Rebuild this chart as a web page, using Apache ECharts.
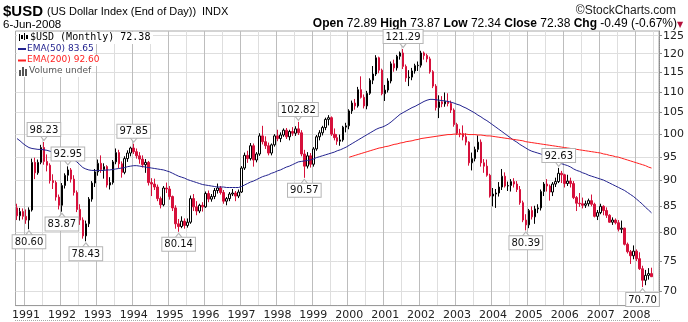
<!DOCTYPE html>
<html><head><meta charset="utf-8">
<script src="https://cdn.jsdelivr.net/npm/echarts@6/dist/echarts.min.js"></script>
<style>html,body{margin:0;padding:0;background:#fff}#c{width:688px;height:322px}</style>
</head><body><div id="c"></div>
<script>
// first candle: Oct 1990, monthly
const startYear = 1990, startMonth = 10;
const openVals = [
84.6, 83.1, 83.9,
83.0, 82.3, 84.2, 93.8, 91.6, 93.8, 97.0, 94.0, 93.2, 90.0, 89.6, 86.7,
85.1, 89.0, 91.1, 92.2, 90.3, 87.6, 84.3, 82.3, 79.4, 81.6, 86.3, 89.5,
91.8, 93.6, 92.3, 92.9, 89.1, 89.6, 93.9, 95.9, 93.5, 91.7, 94.6, 95.8,
96.9, 96.1, 95.2, 94.5, 93.3, 93.8, 89.6, 89.3, 88.7, 86.4, 85.2, 88.5,
88.3, 86.8, 84.6, 81.6, 81.1, 82.1, 81.3, 81.9, 86.4, 84.8, 84.0, 85.1,
84.8, 87.4, 86.3, 86.8, 88.0, 88.5, 87.6, 85.9, 86.4, 87.3, 87.5, 86.9,
87.7, 92.6, 95.3, 94.6, 97.4, 94.3, 95.6, 99.6, 98.3, 97.4, 95.8, 97.6,
99.6, 99.0, 99.8, 100.9, 99.4, 100.6, 100.2, 101.2, 100.3, 95.6, 93.0, 95.2,
93.4, 96.7, 99.4, 100.3, 101.5, 103.4, 103.8, 100.0, 99.2, 98.4, 98.7, 101.6,
101.9, 105.4, 107.3, 106.6, 110.6, 108.7, 106.6, 109.7, 113.0, 114.6, 118.9, 115.6,
109.6, 110.5, 112.8, 117.3, 116.2, 119.3, 120.2, 116.6, 113.6, 113.8, 115.4, 116.8,
116.9, 120.2, 119.5, 118.6, 115.2, 111.5, 106.2, 107.6, 107.1, 107.7, 107.2, 105.6,
102.2, 100.2, 100.1, 99.4, 98.2, 93.7, 94.6, 96.6, 98.2, 93.7, 93.0, 91.1,
86.9, 87.3, 87.5, 88.7, 90.9, 88.9, 89.0, 89.8, 89.3, 88.2, 85.6, 82.3,
81.4, 84.1, 82.9, 84.4, 84.6, 87.8, 89.3, 88.9, 87.7, 89.3, 89.8, 91.5,
91.2, 89.4, 89.9, 89.4, 86.6, 85.5, 85.4, 85.1, 85.4, 86.0, 85.3, 83.0,
83.7, 84.9, 84.1, 83.2, 81.9, 82.3, 81.8, 80.6, 80.8, 77.9, 76.6, 75.9,
76.7, 75.4, 73.7, 71.8, 72.6, 72.89
];
const highVals = [
85.4, 84.6, 84.5,
84.3, 84.7, 94.6, 94.8, 94.4, 97.6, 98.23, 95.5, 93.6, 91.3, 90.0, 87.2,
89.5, 91.5, 92.95, 92.6, 91.1, 88.0, 85.3, 82.8, 82.2, 86.7, 89.9, 92.4,
94.4, 95.3, 93.6, 93.2, 90.7, 94.3, 96.8, 96.5, 94.0, 95.1, 96.4, 97.2,
97.85, 96.8, 96.0, 95.3, 94.5, 94.1, 90.5, 90.4, 89.2, 86.8, 88.9, 89.6,
88.9, 87.0, 85.1, 82.5, 83.0, 82.6, 82.6, 87.0, 87.3, 85.9, 85.4, 85.7,
87.8, 88.0, 87.3, 88.5, 89.4, 88.9, 88.1, 86.7, 87.7, 88.3, 87.9, 88.2,
93.0, 95.9, 96.3, 98.0, 97.9, 96.0, 100.2, 101.9, 99.5, 98.1, 97.9, 100.0,
101.0, 100.4, 101.3, 101.4, 101.0, 101.6, 101.8, 102.82, 100.9, 96.5, 96.0, 95.8,
97.1, 99.8, 100.9, 101.9, 103.8, 104.4, 104.1, 101.3, 100.0, 99.9, 101.9, 102.6,
105.8, 107.9, 108.3, 111.3, 114.0, 109.4, 110.3, 113.5, 116.7, 119.6, 119.2, 116.0,
111.8, 113.5, 117.9, 118.4, 119.7, 120.6, 121.29, 117.1, 115.6, 116.2, 117.3, 117.9,
120.8, 120.6, 120.0, 119.2, 115.6, 112.0, 109.2, 109.0, 109.9, 109.7, 107.9, 106.0,
102.6, 101.2, 102.0, 100.2, 98.4, 95.9, 97.2, 99.7, 98.8, 94.5, 94.4, 91.4,
88.5, 88.3, 89.7, 92.4, 91.7, 89.8, 90.3, 90.5, 89.9, 88.9, 86.0, 83.4,
84.4, 84.9, 85.0, 85.3, 88.2, 89.7, 90.3, 89.2, 89.7, 90.6, 92.63, 92.0,
91.4, 91.2, 90.6, 89.9, 86.9, 87.5, 86.6, 86.0, 86.4, 87.2, 85.6, 84.2,
85.4, 85.1, 84.7, 83.4, 82.8, 82.6, 82.3, 82.2, 80.9, 78.2, 76.9, 77.7,
77.0, 76.5, 74.2, 73.5, 73.8, 73.87
];
const lowVals = [
82.3, 82.2, 82.4,
81.6, 80.60, 83.9, 90.3, 91.2, 93.4, 93.3, 91.9, 89.4, 88.3, 86.0, 84.3,
83.87, 88.4, 89.9, 89.6, 87.0, 83.8, 81.4, 78.9, 78.43, 81.0, 85.8, 88.7,
91.0, 91.6, 90.4, 88.6, 88.2, 89.2, 93.4, 92.6, 90.6, 91.3, 93.9, 95.1,
95.6, 94.6, 93.5, 92.7, 91.6, 89.0, 86.9, 88.1, 85.9, 84.5, 84.9, 87.5,
86.2, 84.0, 80.7, 80.14, 80.8, 80.7, 80.9, 81.6, 84.0, 83.2, 83.6, 83.9,
84.6, 85.7, 85.8, 86.3, 87.4, 87.2, 85.4, 85.1, 85.9, 86.9, 85.9, 86.5,
87.5, 92.2, 93.7, 94.2, 92.9, 93.8, 95.2, 97.7, 96.7, 95.3, 95.3, 97.2,
98.4, 98.2, 99.4, 98.9, 98.6, 99.6, 99.6, 99.8, 95.1, 90.57, 92.5, 92.7,
92.9, 96.3, 98.6, 99.7, 100.9, 102.0, 99.6, 98.6, 97.6, 97.4, 98.3, 100.4,
101.1, 104.7, 105.7, 106.2, 108.4, 106.0, 105.8, 109.3, 112.0, 114.1, 114.8, 109.2,
107.8, 109.9, 112.2, 115.2, 115.5, 118.4, 115.9, 112.6, 111.5, 113.0, 114.7, 115.4,
116.3, 118.4, 117.7, 114.7, 111.0, 105.5, 103.7, 106.3, 106.4, 106.5, 104.9, 101.7,
99.8, 99.3, 98.6, 97.5, 93.1, 92.1, 94.0, 96.0, 92.9, 91.6, 90.8, 86.6,
84.9, 84.6, 86.8, 88.1, 88.6, 87.9, 87.8, 88.6, 87.7, 85.2, 81.9, 80.39,
80.8, 82.4, 81.6, 83.6, 84.1, 86.9, 87.8, 86.0, 86.9, 88.7, 89.5, 89.5,
88.6, 88.9, 88.6, 86.3, 84.0, 84.8, 84.5, 84.6, 84.9, 84.9, 82.8, 82.3,
83.4, 83.2, 82.7, 81.8, 81.4, 81.5, 80.2, 79.9, 77.7, 76.3, 74.5, 75.3,
75.0, 73.5, 70.70, 71.0, 71.9, 72.34
];
const closeVals = [
83.1, 83.9, 83.0,
82.3, 84.2, 93.8, 91.6, 93.8, 97.0, 94.0, 93.2, 90.0, 89.6, 86.7, 85.1,
89.0, 91.1, 92.2, 90.3, 87.6, 84.3, 82.3, 79.4, 81.6, 86.3, 89.5, 91.8,
93.6, 92.3, 92.9, 89.1, 89.6, 93.9, 95.9, 93.5, 91.7, 94.6, 95.8, 96.9,
96.1, 95.2, 94.5, 93.3, 93.8, 89.6, 89.3, 88.7, 86.4, 85.2, 88.5, 88.3,
86.8, 84.6, 81.6, 81.1, 82.1, 81.3, 81.9, 86.4, 84.8, 84.0, 85.1, 84.8,
87.4, 86.3, 86.8, 88.0, 88.5, 87.6, 85.9, 86.4, 87.3, 87.5, 86.9, 87.7,
92.6, 95.3, 94.6, 97.4, 94.3, 95.6, 99.6, 98.3, 97.4, 95.8, 97.6, 99.6,
99.0, 99.8, 100.9, 99.4, 100.6, 100.2, 101.2, 100.3, 95.6, 93.0, 95.2, 93.4,
96.7, 99.4, 100.3, 101.5, 103.4, 103.8, 100.0, 99.2, 98.4, 98.7, 101.6, 101.9,
105.4, 107.3, 106.6, 110.6, 108.7, 106.6, 109.7, 113.0, 114.6, 118.9, 115.6, 109.6,
110.5, 112.8, 117.3, 116.2, 119.3, 120.2, 116.6, 113.6, 113.8, 115.4, 116.8, 116.9,
120.2, 119.5, 118.6, 115.2, 111.5, 106.2, 107.6, 107.1, 107.7, 107.2, 105.6, 102.2,
100.2, 100.1, 99.4, 98.2, 93.7, 94.6, 96.6, 98.2, 93.7, 93.0, 91.1, 86.9,
87.3, 87.5, 88.7, 90.9, 88.9, 89.0, 89.8, 89.3, 88.2, 85.6, 82.3, 81.4,
84.1, 82.9, 84.4, 84.6, 87.8, 89.3, 88.9, 87.7, 89.3, 89.8, 91.5, 91.2,
89.4, 89.9, 89.4, 86.6, 85.5, 85.4, 85.1, 85.4, 86.0, 85.3, 83.0, 83.7,
84.9, 84.1, 83.2, 81.9, 82.3, 81.8, 80.6, 80.8, 77.9, 76.6, 75.9, 76.7,
75.4, 73.7, 71.8, 72.6, 72.89, 72.38
];
const ema50Vals = [
99.0, 98.5, 97.9,
97.4, 97.0, 96.8, 96.7, 96.6, 96.6, 96.5, 96.4, 96.2, 96.0, 95.9, 95.8,
95.6, 95.4, 95.1, 94.8, 94.4, 93.9, 93.3, 92.7, 92.4, 92.2, 92.1, 92.1,
92.1, 92.1, 92.1, 92.2, 92.2, 92.3, 92.4, 92.5, 92.6, 92.7, 92.9, 93.0,
93.1, 93.1, 93.0, 92.9, 92.8, 92.7, 92.6, 92.5, 92.4, 92.3, 92.2, 92.0,
91.8, 91.5, 91.2, 90.9, 90.7, 90.5, 90.2, 90.0, 89.8, 89.6, 89.4, 89.2,
89.1, 89.0, 88.9, 88.8, 88.7, 88.7, 88.7, 88.6, 88.6, 88.6, 88.6, 88.6,
88.8, 89.1, 89.4, 89.7, 89.9, 90.2, 90.5, 90.8, 91.0, 91.2, 91.5, 91.7,
92.0, 92.2, 92.5, 92.8, 93.0, 93.3, 93.6, 93.9, 94.0, 94.1, 94.2, 94.3,
94.5, 94.8, 95.0, 95.2, 95.4, 95.6, 95.8, 96.0, 96.3, 96.5, 96.8, 97.1,
97.5, 97.9, 98.3, 98.7, 99.1, 99.5, 99.9, 100.3, 100.7, 101.1, 101.4, 101.6,
101.9, 102.3, 102.8, 103.4, 104.0, 104.6, 105.0, 105.4, 105.8, 106.2, 106.5, 106.9,
107.3, 107.7, 108.0, 108.2, 108.2, 108.1, 108.0, 107.9, 107.8, 107.7, 107.5, 107.3,
107.0, 106.8, 106.4, 106.1, 105.7, 105.3, 104.9, 104.4, 104.0, 103.5, 103.1, 102.6,
102.1, 101.6, 101.1, 100.6, 100.1, 99.6, 99.1, 98.6, 98.2, 97.7, 97.3, 96.9,
96.5, 96.2, 96.0, 95.8, 95.6, 95.3, 95.0, 94.6, 94.2, 93.9, 93.7, 93.5,
93.3, 93.1, 92.8, 92.4, 92.1, 91.9, 91.6, 91.4, 91.1, 90.9, 90.7, 90.5,
90.3, 90.1, 89.8, 89.5, 89.2, 88.9, 88.6, 88.3, 88.0, 87.6, 87.2, 86.8,
86.3, 85.8, 85.3, 84.7, 84.2, 83.65
];
// EMA(200) is drawn from Jan 2000 onwards
const ema200Start = '2000-01';
const ema200Vals = [
94.9, 95.1, 95.3, 95.5, 95.7, 95.9, 96.1, 96.3, 96.5, 96.7, 96.9, 97.0,
97.2, 97.3, 97.5, 97.7, 97.8, 98.0, 98.1, 98.3, 98.4, 98.5, 98.7, 98.8,
99.0, 99.1, 99.2, 99.3, 99.4, 99.5, 99.6, 99.7, 99.8, 99.9, 99.9, 100.0,
100.0, 100.0, 100.0, 100.0, 99.9, 99.9, 99.9, 99.8, 99.8, 99.7, 99.6, 99.6,
99.5, 99.4, 99.3, 99.2, 99.1, 99.0, 98.9, 98.8, 98.7, 98.6, 98.5, 98.3,
98.2, 98.1, 98.0, 97.9, 97.8, 97.7, 97.6, 97.5, 97.4, 97.3, 97.2, 97.1,
97.0, 96.9, 96.8, 96.7, 96.6, 96.5, 96.4, 96.3, 96.2, 96.1, 96.0, 95.9,
95.8, 95.6, 95.5, 95.3, 95.2, 95.0, 94.9, 94.7, 94.5, 94.3, 94.1, 93.9,
93.7, 93.5, 93.3, 93.1, 92.8, 92.60
];
const yearTicks = ['1991','1992','1993','1994','1995','1996','1997','1998','1999','2000','2001','2002','2003','2004','2005','2006','2007','2008'];
const priceTicks = [70, 75, 80, 85, 90, 95, 100, 105, 110, 115, 120, 125];
// labelled extremes: [month, value, kind]
const extremes = [
  ['1991-02', 80.60, 'low'], ['1991-07', 98.23, 'high'], ['1992-01', 83.87, 'low'],
  ['1992-03', 92.95, 'high'], ['1992-09', 78.43, 'low'], ['1994-01', 97.85, 'high'],
  ['1995-04', 80.14, 'low'], ['1998-08', 102.82, 'high'], ['1998-10', 90.57, 'low'],
  ['2001-07', 121.29, 'high'], ['2004-12', 80.39, 'low'], ['2005-11', 92.63, 'high'],
  ['2008-03', 70.70, 'low']
];

const months = [];
for (let k = 0; k < closeVals.length + 2; k++) {
  const mm = startMonth - 1 + k;
  const y = startYear + Math.floor(mm / 12), m = mm % 12 + 1;
  months.push(y + '-' + String(m).padStart(2, '0'));
}
const e200Offset = months.indexOf(ema200Start);
const ema200Full = months.map((_, i) => (i >= e200Offset && i - e200Offset < ema200Vals.length) ? ema200Vals[i - e200Offset] : null);
const candleData = openVals.map((o, i) => [o, closeVals[i], lowVals[i], highVals[i]]);

const RED = '#d6103b', NAVY = '#23238f', EMARED = '#ff1f1f';
const lab = {fontFamily: 'DejaVu Sans', fontSize: 10, color: '#111'};
const markData = extremes.map(([m, v, kind]) => ({
  coord: [m, v], value: v,
  symbol: 'triangle', symbolSize: [8, 5],
  symbolRotate: kind === 'high' ? 180 : 0,
  symbolOffset: [0, kind === 'high' ? -4 : 4],
  label: {position: kind === 'high' ? 'top' : 'bottom', distance: -1}
}));

const last = a => a[a.length - 1];
const chart = echarts.init(document.getElementById('c'), null, {renderer: 'canvas'});
chart.setOption({
  animation: false,
  backgroundColor: '#ffffff',
  grid: {left: 15.5, right: 29, top: 31, bottom: 16.4, show: true, borderColor: '#a8a8a8', borderWidth: 1},
  xAxis: [{
    type: 'category', data: months, boundaryGap: true,
    axisLine: {show: true, lineStyle: {color: '#9a9a9a'}},
    axisTick: {show: false},
    axisLabel: {
      interval: (i, v) => v.endsWith('-01') && yearTicks.includes(v.slice(0, 4)),
      formatter: v => v.slice(0, 4), color: '#222', fontSize: 11, fontFamily: 'DejaVu Sans', margin: 4
    },
    splitLine: {show: true, interval: (i, v) => v.endsWith('-01'), lineStyle: {color: '#bdbdbd', width: 1}}
  }, {
    type: 'category', data: months, boundaryGap: true, position: 'bottom',
    axisLine: {show: false}, axisTick: {show: false}, axisLabel: {show: false},
    splitLine: {show: true, interval: (i, v) => v.endsWith('-07'), lineStyle: {color: '#dedede', width: 1}}
  }],
  yAxis: [{
    type: 'log', logBase: 10, min: 67.79, max: 126.34, position: 'right',
    axisLine: {show: true, lineStyle: {color: '#8a8a8a', type: 'dotted'}},
    axisTick: {show: true, customValues: priceTicks, length: 3, lineStyle: {color: '#8a8a8a'}},
    axisLabel: {customValues: priceTicks, color: '#222', fontSize: 11, fontFamily: 'DejaVu Sans', margin: 4},
    splitLine: {show: true, lineStyle: {color: '#dedede', width: 1}}
  }],
  series: [{
    type: 'candlestick', name: '$USD', xAxisIndex: 0, yAxisIndex: 0,
    data: candleData, barWidth: 2,
    itemStyle: {color: '#ffffff', color0: RED, borderColor: '#000000', borderColor0: RED, borderWidth: 1},
    markPoint: {
      data: markData,
      itemStyle: {color: '#ffffff', borderColor: '#b5b5b5', borderWidth: 1},
      label: {
        show: true, formatter: p => Number(p.value).toFixed(2),
        backgroundColor: '#ffffff', borderColor: '#b5b5b5', borderWidth: 1,
        padding: [2, 2, 1, 2], ...lab
      },
      z: 5
    }
  }, {
    type: 'line', name: 'EMA(50)', data: ema50Vals, xAxisIndex: 0, yAxisIndex: 0,
    showSymbol: false, symbol: 'none', lineStyle: {color: NAVY, width: 1}, z: 3
  }, {
    type: 'line', name: 'EMA(200)', data: ema200Full, xAxisIndex: 0, yAxisIndex: 0,
    showSymbol: false, symbol: 'none', lineStyle: {color: EMARED, width: 1}, z: 3
  }],
  graphic: {elements: [
    {type: 'text', left: 3, top: 4, style: {text: '$USD', font: 'bold 15px "Liberation Sans", Arial', fill: '#000'}},
    {type: 'text', left: 47, top: 6, style: {text: '(US Dollar Index (End of Day))', font: '11px "Liberation Sans", Arial', fill: '#000'}},
    {type: 'text', left: 202, top: 6, style: {text: 'INDX', font: '11px "Liberation Sans", Arial', fill: '#000'}},
    {type: 'text', right: 12, top: 5, style: {text: '\u00a9StockCharts.com', font: '12px "Liberation Sans", Arial', fill: '#222'}},
    {type: 'text', left: 3, top: 19, style: {text: '6-Jun-2008', font: '11.5px "Liberation Sans", Arial', fill: '#000'}},
    {type: 'text', right: 11, top: 18, style: {
      text: '{b|Open} {v|' + last(openVals).toFixed(2) + '} {b|High} {v|' + last(highVals).toFixed(2) + '} {b|Low} {v|' + last(lowVals).toFixed(2) + '} {b|Close} {v|' + last(closeVals).toFixed(2) + '} {b|Chg} {v|-0.49 (-0.67%)}',
      rich: {b: {font: 'bold 12px "Liberation Sans", Arial', fill: '#000'}, v: {font: '12px "Liberation Sans", Arial', fill: '#000'}}
    }},
    {type: 'text', left: 677, top: 21, style: {text: '\u25bc', font: '8px "DejaVu Sans"', fill: '#b4103c'}},
    // in-plot legend
    {type: 'rect', shape: {x: 17, y: 32, width: 136, height: 12}, style: {fill: '#fff'}, z: 10},
    {type: 'rect', shape: {x: 19, y: 34, width: 1, height: 7}, style: {fill: '#000'}, z: 11},
    {type: 'rect', shape: {x: 21, y: 35, width: 2, height: 4}, style: {fill: '#000'}, z: 11},
    {type: 'rect', shape: {x: 24, y: 33, width: 1, height: 7}, style: {fill: '#000'}, z: 11},
    {type: 'rect', shape: {x: 26, y: 35, width: 2, height: 4}, style: {fill: '#000'}, z: 11},
    {type: 'text', left: 30, top: 32, z: 11, style: {text: '$USD (Monthly) ' + last(closeVals).toFixed(2), font: '10px "DejaVu Sans Mono"', fill: '#000'}},
    {type: 'rect', shape: {x: 17, y: 44, width: 77, height: 11}, style: {fill: '#fff'}, z: 10},
    {type: 'rect', shape: {x: 18, y: 48, width: 8, height: 2}, style: {fill: NAVY}, z: 11},
    {type: 'text', left: 27, top: 44, z: 11, style: {text: 'EMA(50) ' + last(ema50Vals).toFixed(2), font: '9px "DejaVu Sans"', fill: NAVY}},
    {type: 'rect', shape: {x: 17, y: 55, width: 82, height: 11}, style: {fill: '#fff'}, z: 10},
    {type: 'rect', shape: {x: 18, y: 59.5, width: 8, height: 2}, style: {fill: EMARED}, z: 11},
    {type: 'text', left: 27, top: 55.5, z: 11, style: {text: 'EMA(200) ' + last(ema200Vals).toFixed(2), font: '9px "DejaVu Sans"', fill: EMARED}},
    {type: 'rect', shape: {x: 17, y: 66, width: 74, height: 11}, style: {fill: '#fff'}, z: 10},
    {type: 'rect', shape: {x: 19, y: 70, width: 2, height: 6}, style: {fill: '#555'}, z: 11},
    {type: 'rect', shape: {x: 22, y: 67, width: 2, height: 9}, style: {fill: '#555'}, z: 11},
    {type: 'rect', shape: {x: 25, y: 69, width: 2, height: 7}, style: {fill: '#555'}, z: 11},
    {type: 'text', left: 29, top: 66.5, z: 11, style: {text: 'Volume undef', font: '9px "DejaVu Sans"', fill: '#555'}},
    {type: 'line', shape: {x1: 15, y1: 320.5, x2: 660, y2: 320.5}, style: {stroke: '#a8a8a8', lineWidth: 1, lineDash: [1, 1]}}
  ]}
});
</script>
</body></html>
